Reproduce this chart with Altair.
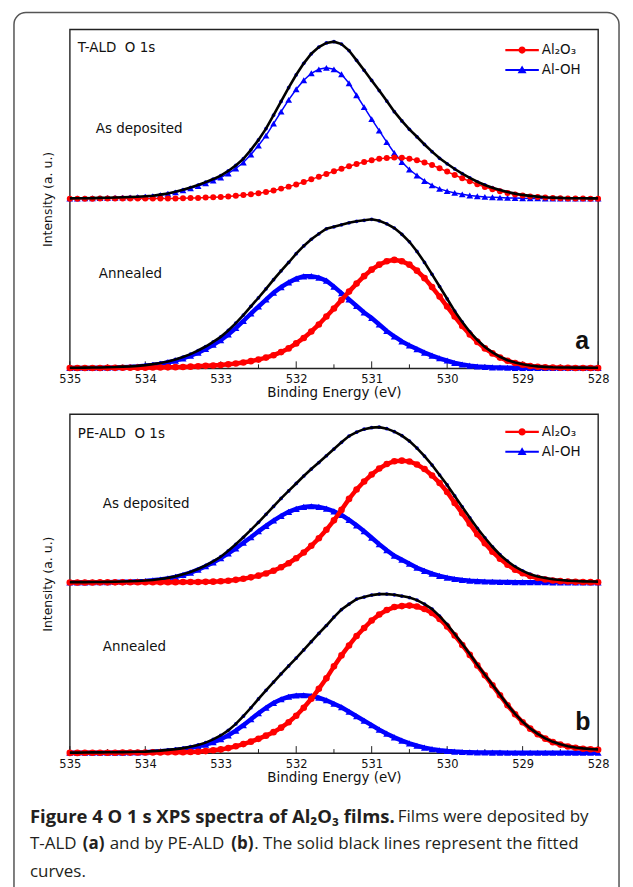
import altair as alt
import pandas as pd

# ---------------- data (binding energy grid, eV) ----------------
ENERGY = [535.0, 534.9, 534.8, 534.7, 534.6, 534.5, 534.4, 534.3, 534.2, 534.1,
          534.0, 533.9, 533.8, 533.7, 533.6, 533.5, 533.4, 533.3, 533.2, 533.1,
          533.0, 532.9, 532.8, 532.7, 532.6, 532.5, 532.4, 532.3, 532.2, 532.1,
          532.0, 531.9, 531.8, 531.7, 531.6, 531.5, 531.4, 531.3, 531.2, 531.1,
          531.0, 530.9, 530.8, 530.7, 530.6, 530.5, 530.4, 530.3, 530.2, 530.1,
          530.0, 529.9, 529.8, 529.7, 529.6, 529.5, 529.4, 529.3, 529.2, 529.1,
          529.0, 528.9, 528.8, 528.7, 528.6, 528.5, 528.4, 528.3, 528.2, 528.1,
          528.0]

# (a) T-ALD, as deposited
TALD_AD_ALOH = [0.3, 0.4, 0.5, 0.6, 0.7, 0.9, 1.1, 1.3, 1.5, 1.8,
                2.2, 2.7, 3.8, 5.0, 6.6, 8.5, 10.6, 12.9, 15.5, 18.3,
                21.4, 25.5, 30.5, 36.5, 44.5, 53.5, 63.5, 75.5, 87.5, 99.3,
                110.0, 119.0, 126.0, 130.0, 131.5, 130.0, 125.0, 116.0, 104.0, 92.0,
                80.0, 68.5, 57.0, 46.0, 37.0, 29.5, 23.5, 18.0, 13.5, 10.0,
                7.8, 6.0, 4.6, 3.4, 2.6, 2.0, 1.6, 1.3, 1.0, 0.8,
                0.6, 0.5, 0.5, 0.4, 0.4, 0.4, 0.3, 0.3, 0.3, 0.3,
                0.3]
TALD_AD_AL2O3 = [0.2, 0.2, 0.2, 0.2, 0.3, 0.3, 0.3, 0.3, 0.4, 0.4,
                 0.4, 0.4, 0.5, 0.5, 0.5, 0.6, 0.8, 1.0, 1.3, 1.6,
                 2.0, 2.5, 3.1, 3.8, 4.7, 5.7, 7.0, 8.5, 10.3, 12.3,
                 14.5, 17.0, 19.6, 22.3, 25.0, 27.7, 30.3, 32.8, 35.0, 37.0,
                 38.8, 40.2, 41.1, 41.5, 41.2, 40.3, 38.8, 36.6, 33.9, 30.7,
                 27.4, 24.0, 20.7, 17.6, 14.6, 12.0, 9.6, 7.6, 5.9, 4.5,
                 3.4, 2.5, 1.8, 1.3, 0.9, 0.6, 0.4, 0.3, 0.3, 0.2,
                 0.2]
TALD_AD_FIT = [0.5, 0.6, 0.7, 0.8, 1.0, 1.2, 1.4, 1.6, 1.9, 2.2,
               2.6, 3.1, 4.3, 5.5, 7.1, 9.1, 11.4, 13.9, 16.8, 19.9,
               23.4, 28.0, 33.6, 40.3, 49.2, 59.2, 70.5, 84.0, 97.8, 111.6,
               124.5, 136.0, 145.6, 152.3, 156.5, 157.7, 155.3, 148.8, 139.0, 129.0,
               118.8, 108.7, 98.1, 87.5, 78.2, 69.8, 62.3, 54.6, 47.4, 40.7,
               35.2, 30.0, 25.3, 21.0, 17.2, 14.0, 11.2, 8.9, 6.9, 5.3,
               4.0, 3.0, 2.3, 1.7, 1.3, 1.0, 0.7, 0.6, 0.6, 0.5,
               0.5]

# (a) T-ALD, annealed
TALD_AN_ALOH = [0.3, 0.3, 0.4, 0.4, 0.5, 0.6, 0.8, 1.1, 1.4, 1.8,
                2.5, 3.4, 4.5, 5.9, 7.7, 9.9, 12.6, 15.8, 19.4, 23.6,
                28.2, 34.0, 40.5, 47.5, 55.0, 62.0, 69.0, 75.8, 81.5, 86.2,
                90.0, 92.3, 92.5, 91.0, 88.0, 82.0, 75.5, 69.0, 62.5, 56.0,
                50.5, 44.0, 37.5, 32.0, 27.0, 23.0, 19.3, 15.8, 12.8, 10.1,
                7.8, 5.4, 3.9, 2.7, 1.9, 1.4, 1.0, 0.8, 0.6, 0.5,
                0.5, 0.4, 0.4, 0.4, 0.3, 0.3, 0.3, 0.3, 0.3, 0.3,
                0.3]
TALD_AN_AL2O3 = [0.3, 0.3, 0.3, 0.4, 0.4, 0.5, 0.5, 0.6, 0.6, 0.7,
                 0.7, 0.8, 0.9, 1.0, 1.2, 1.4, 1.7, 2.1, 2.5, 2.9,
                 3.4, 4.0, 4.9, 5.9, 7.2, 8.8, 10.8, 13.2, 16.3, 20.0,
                 25.0, 30.5, 37.0, 44.0, 52.0, 60.0, 68.5, 77.0, 85.0, 92.5,
                 99.0, 104.0, 107.5, 108.8, 107.5, 104.0, 98.0, 90.5, 81.5, 72.0,
                 62.0, 52.0, 42.5, 34.0, 26.5, 20.0, 15.0, 10.8, 7.6, 5.3,
                 3.6, 2.4, 1.6, 1.1, 0.8, 0.6, 0.5, 0.4, 0.4, 0.3,
                 0.3]
TALD_AN_FIT = [0.6, 0.6, 0.7, 0.8, 0.9, 1.1, 1.3, 1.7, 2.0, 2.5,
               3.2, 4.2, 5.4, 6.9, 8.9, 11.3, 14.3, 17.9, 21.9, 26.5,
               31.6, 38.0, 45.4, 53.4, 62.2, 70.8, 79.8, 89.0, 97.8, 106.2,
               115.0, 122.8, 129.5, 135.0, 140.0, 142.0, 144.0, 146.0, 147.5, 148.5,
               149.5, 148.0, 145.0, 140.8, 134.5, 127.0, 117.3, 106.3, 94.3, 82.1,
               69.8, 57.4, 46.4, 36.7, 28.4, 21.4, 16.0, 11.6, 8.2, 5.8,
               4.1, 2.8, 2.0, 1.5, 1.1, 0.9, 0.8, 0.7, 0.7, 0.6,
               0.6]

# (b) PE-ALD, as deposited
PEALD_AD_ALOH = [0.3, 0.3, 0.3, 0.4, 0.4, 0.5, 0.6, 0.8, 1.0, 1.3,
                 1.7, 2.3, 3.1, 4.3, 5.8, 7.7, 10.1, 13.0, 16.4, 20.3,
                 24.6, 29.3, 34.3, 40.0, 45.6, 51.5, 57.0, 62.3, 67.0, 71.0,
                 74.0, 76.0, 76.6, 76.0, 74.3, 71.5, 67.8, 63.0, 57.5, 51.5,
                 45.0, 38.5, 32.5, 27.0, 23.0, 19.0, 15.0, 11.8, 9.0, 6.8,
                 5.0, 3.7, 2.7, 2.0, 1.5, 1.1, 0.9, 0.7, 0.6, 0.5,
                 0.5, 0.4, 0.4, 0.4, 0.3, 0.3, 0.3, 0.3, 0.3, 0.3,
                 0.3]
PEALD_AD_AL2O3 = [0.2, 0.2, 0.2, 0.2, 0.3, 0.3, 0.3, 0.3, 0.4, 0.4,
                  0.4, 0.4, 0.5, 0.5, 0.5, 0.6, 0.6, 0.7, 0.8, 1.0,
                  1.4, 1.9, 2.8, 3.9, 5.3, 7.0, 9.2, 12.0, 15.5, 19.5,
                  24.5, 30.2, 37.0, 44.5, 53.0, 62.5, 73.0, 84.0, 93.5, 101.5,
                  108.5, 114.5, 119.0, 121.8, 122.4, 121.5, 118.5, 114.0, 107.5, 100.0,
                  91.0, 80.0, 69.5, 59.0, 48.5, 39.5, 31.0, 24.0, 18.0, 13.0,
                  9.4, 6.6, 4.6, 3.2, 2.2, 1.5, 1.1, 0.8, 0.6, 0.5,
                  0.4]
PEALD_AD_FIT = [0.5, 0.5, 0.5, 0.6, 0.7, 0.8, 0.9, 1.1, 1.4, 1.7,
                2.1, 2.7, 3.6, 4.8, 6.3, 8.3, 10.7, 13.7, 17.2, 21.3,
                26.0, 32.0, 38.5, 45.5, 53.0, 60.5, 68.5, 76.5, 84.5, 92.0,
                99.5, 107.0, 114.0, 120.5, 127.3, 134.0, 140.8, 147.0, 151.0, 154.0,
                155.5, 156.0, 154.5, 151.5, 147.5, 142.0, 135.0, 127.0, 118.0, 108.0,
                98.0, 87.0, 76.0, 65.0, 54.5, 45.0, 36.0, 28.0, 21.5, 16.0,
                11.8, 8.5, 6.2, 4.6, 3.4, 2.6, 2.0, 1.6, 1.3, 1.1,
                1.0]

# (b) PE-ALD, annealed
PEALD_AN_ALOH = [0.3, 0.3, 0.3, 0.4, 0.4, 0.4, 0.5, 0.5, 0.6, 0.7,
                 0.9, 1.3, 1.8, 2.4, 3.2, 4.1, 5.3, 6.8, 8.5, 11.0,
                 14.0, 17.8, 22.5, 28.0, 34.0, 40.0, 45.5, 50.3, 54.0, 56.5,
                 57.8, 58.0, 57.3, 55.5, 53.0, 49.5, 46.0, 41.5, 37.0, 32.5,
                 28.0, 23.5, 19.5, 15.8, 12.5, 9.7, 7.4, 5.5, 4.0, 2.9,
                 2.1, 1.5, 1.1, 0.9, 0.7, 0.6, 0.5, 0.5, 0.4, 0.4,
                 0.4, 0.3, 0.3, 0.3, 0.3, 0.3, 0.3, 0.3, 0.3, 0.3,
                 0.3]
PEALD_AN_AL2O3 = [0.2, 0.2, 0.3, 0.3, 0.3, 0.4, 0.4, 0.5, 0.5, 0.6,
                  0.6, 0.7, 0.7, 0.8, 0.8, 0.9, 1.1, 1.4, 2.0, 2.8,
                  3.7, 5.0, 6.8, 9.0, 11.5, 14.3, 17.5, 21.0, 25.5, 31.0,
                  37.5, 45.5, 54.5, 64.5, 75.0, 87.0, 98.0, 108.0, 117.5, 125.5,
                  133.0, 139.0, 143.5, 146.5, 147.5, 148.0, 147.0, 144.5, 140.5, 134.5,
                  127.0, 118.0, 108.5, 98.5, 88.0, 78.0, 68.0, 58.0, 48.0, 39.0,
                  31.0, 24.5, 19.0, 14.5, 11.0, 8.5, 6.6, 5.3, 4.4, 3.8,
                  3.4]
PEALD_AN_FIT = [0.5, 0.5, 0.6, 0.7, 0.7, 0.8, 0.9, 1.0, 1.1, 1.3,
                1.5, 2.0, 2.5, 3.2, 4.0, 5.0, 6.4, 8.2, 10.5, 13.8,
                17.7, 22.8, 29.3, 37.0, 45.5, 54.3, 63.0, 71.3, 79.5, 87.5,
                95.3, 103.5, 111.8, 120.0, 128.0, 136.5, 144.0, 149.5, 154.5, 156.5,
                158.5, 159.5, 159.5, 158.8, 157.5, 156.0, 153.5, 149.5, 144.5, 137.4,
                129.1, 119.5, 109.6, 99.4, 88.7, 78.6, 68.5, 58.5, 48.4, 39.4,
                31.4, 24.8, 19.3, 14.8, 11.3, 8.8, 6.9, 5.6, 4.7, 4.1,
                3.7]

OFFSET_A = 170   # vertical stacking offset of the as-deposited spectrum (a)
OFFSET_B = 171   # vertical stacking offset of the as-deposited spectrum (b)

SERIES = ["Al\u2082O\u2083", "Al-OH"]
X_TICKS = [535, 534, 533, 532, 531, 530, 529, 528]
X_MINOR = [534.5, 533.5, 532.5, 531.5, 530.5, 529.5, 528.5]

# ---------------- style ----------------
RED = "#ff0000"
BLUE = "#0000ff"
INK = "#111111"
CAP = "#231f20"
W, H = 530, 340
FONT = "DejaVu Sans"
CAP_FONT = "Open Sans"
NBSP = "\u00a0"

PATH_CIRCLE = ("M-2.8,-0.17L2.8,-0.17L2.8,0.17L-2.8,0.17Z "
               "M0.6,0A0.6,0.6 0 1,1 -0.6,0A0.6,0.6 0 1,1 0.6,0Z")
PATH_TRI = ("M-2.8,-0.17L2.8,-0.17L2.8,0.17L-2.8,0.17Z "
            "M0,-0.78L0.75,0.55L-0.75,0.55Z")

xscale = alt.Scale(domain=[528, 535], reverse=True, nice=False, zero=False)
yscale = alt.Scale(domain=[0, H], nice=False, zero=False)
xaxis = alt.Axis(values=X_TICKS, format="d", title="Binding Energy (eV)", grid=False,
                 ticks=False, tickSize=0, domain=False, labelFont=FONT, labelFontSize=11.5,
                 labelColor=INK, labelPadding=5, labelFlush=False, titleFont=FONT,
                 titleFontSize=13.5, titleFontWeight="normal", titleColor=INK, titlePadding=1)
yaxis = alt.Axis(title="Intensity (a. u.)", labels=False, ticks=False, tickSize=0, domain=False,
                 grid=False, titleFont=FONT, titleFontSize=12.5, titleFontWeight="normal",
                 titleColor=INK, titlePadding=15)
X = alt.X("energy:Q", scale=xscale, axis=xaxis)
Y = alt.Y("intensity:Q", scale=yscale, axis=yaxis)
ONE = pd.DataFrame({"k": [0]})


def series_df(values, offset):
    return pd.DataFrame({"energy": ENERGY, "intensity": [v + offset for v in values]})


def spectrum_layers(aloh, al2o3, fit, offset, band, tri, dot):
    d_oh, d_ox, d_fit = series_df(aloh, offset), series_df(al2o3, offset), series_df(fit, offset)
    return [
        # measured data (blue dots along the envelope)
        alt.Chart(d_fit).mark_point(shape="circle", filled=True, color=BLUE, size=14,
                                    opacity=1).encode(x=X, y=Y),
        alt.Chart(d_oh).mark_line(color=BLUE, strokeWidth=band).encode(x=X, y=Y),
        alt.Chart(d_oh).mark_point(shape="triangle-up", filled=True, color=BLUE, size=tri,
                                   opacity=1).encode(x=X, y=Y),
        alt.Chart(d_ox).mark_line(color=RED, strokeWidth=band).encode(x=X, y=Y),
        alt.Chart(d_ox).mark_point(shape="circle", filled=True, color=RED, size=dot,
                                   opacity=1).encode(x=X, y=Y),
        alt.Chart(d_fit).mark_line(color="#000000", strokeWidth=2.6).encode(x=X, y=Y),
    ]


def note(text, x, y, size, weight="normal", font=FONT, color=INK, align="left"):
    return alt.Chart(ONE).mark_text(text=text, align=align, baseline="middle", font=font,
                                    fontSize=size, fontWeight=weight, color=color).encode(
        x=alt.value(x), y=alt.value(y))


def tick_layers():
    major = alt.Chart(pd.DataFrame({"energy": X_TICKS})).mark_rule(color="#222", strokeWidth=1).encode(
        x=X, y=alt.value(H), y2=alt.value(H - 7))
    minor = alt.Chart(pd.DataFrame({"energy": X_MINOR})).mark_rule(color="#222", strokeWidth=1).encode(
        x=X, y=alt.value(H), y2=alt.value(H - 4))
    return [major, minor]


def legend_layer(ly):
    leg = dict(orient="none", legendX=447, legendY=ly, title=None, labelFont=FONT,
               labelFontSize=13.5, labelColor=INK, symbolSize=144, symbolStrokeWidth=0,
               symbolOpacity=1, labelOffset=13, rowPadding=5, padding=0)
    return alt.Chart(pd.DataFrame({"series": SERIES})).mark_point(filled=True, opacity=0).encode(
        color=alt.Color("series:N", scale=alt.Scale(domain=SERIES, range=[RED, BLUE]),
                        legend=alt.Legend(**leg)),
        shape=alt.Shape("series:N", scale=alt.Scale(domain=SERIES, range=[PATH_CIRCLE, PATH_TRI]),
                        legend=alt.Legend(**leg)),
    )


outer_box = alt.Chart(ONE).mark_rect(fill="transparent", stroke="#555555", strokeWidth=1.5,
                                     cornerRadius=12).encode(
    x=alt.value(-56), x2=alt.value(551), y=alt.value(-17), y2=alt.value(905))

panel_a = alt.layer(
    outer_box,
    *tick_layers(),
    *spectrum_layers(TALD_AN_ALOH, TALD_AN_AL2O3, TALD_AN_FIT, 0, 4.5, 50, 44),
    *spectrum_layers(TALD_AD_ALOH, TALD_AD_AL2O3, TALD_AD_FIT, OFFSET_A, 1.5, 46, 36),
    note("T-ALD" + NBSP + NBSP + "O 1s", 8, 19, 13.5),
    note("As deposited", 26, 100, 13.5),
    note("Annealed", 29, 245, 13.5),
    note("a", 507, 313, 25, weight="bold", font="Liberation Sans"),
    legend_layer(14),
).properties(width=W, height=H)

panel_b = alt.layer(
    *tick_layers(),
    *spectrum_layers(PEALD_AN_ALOH, PEALD_AN_AL2O3, PEALD_AN_FIT, 0, 4.5, 50, 44),
    *spectrum_layers(PEALD_AD_ALOH, PEALD_AD_AL2O3, PEALD_AD_FIT, OFFSET_B, 4.5, 50, 44),
    note("PE-ALD" + NBSP + NBSP + "O 1s", 8, 20, 13.5),
    note("As deposited", 33, 90, 13.5),
    note("Annealed", 33, 234, 13.5),
    note("b", 507, 309, 25, weight="bold", font="Liberation Sans"),
    legend_layer(11),
    # caption
    note("Figure 4 O 1 s XPS spectra of Al\u2082O\u2083 films.", -40, 404, 18.5, weight="bold",
         font=CAP_FONT, color=CAP),
    note("Films were deposited by", 329, 404, 17, font=CAP_FONT, color=CAP),
    note("T-ALD", -40, 431, 17, font=CAP_FONT, color=CAP),
    note("(a)", 13, 431, 17, weight="bold", font=CAP_FONT, color=CAP),
    note("and by PE-ALD", 40, 431, 17, font=CAP_FONT, color=CAP),
    note("(b)", 162, 431, 17, weight="bold", font=CAP_FONT, color=CAP),
    note(". The solid black lines represent the fitted", 185, 431, 17, font=CAP_FONT, color=CAP),
    note("curves.", -40, 459, 17, font=CAP_FONT, color=CAP),
).properties(width=W, height=H)

chart = alt.vconcat(panel_a, panel_b, spacing=46, bounds="flush").resolve_scale(
    color="independent", shape="independent"
).properties(
    padding={"left": 4, "top": 1, "right": 4, "bottom": 4}
).configure_view(stroke="#222222", strokeWidth=1.4)

chart.save("out.html", embed_options={"renderer": "svg", "actions": False})
